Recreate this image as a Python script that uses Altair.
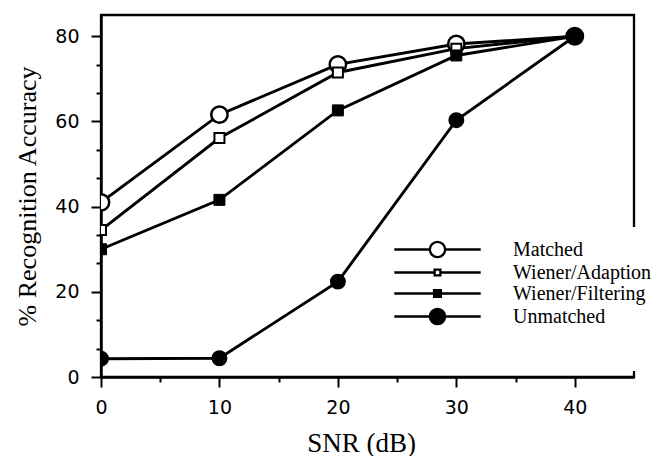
import altair as alt
import pandas as pd

# ---- data ----
snr = [0, 10, 20, 30, 40]
series_names = ["Matched", "Wiener/Adaption", "Wiener/Filtering", "Unmatched"]
matched = [41.0, 61.6, 73.4, 78.2, 80.0]
wiener_adaption = [34.5, 56.1, 71.5, 77.1, 80.0]
wiener_filtering = [30.0, 41.6, 62.6, 75.5, 80.0]
unmatched = [4.3, 4.4, 22.4, 60.3, 80.0]

x_tick_values = [0, 5, 10, 15, 20, 25, 30, 35, 40]
y_tick_values = [0, 20 / 3, 40 / 3, 20, 80 / 3, 100 / 3, 40, 140 / 3, 160 / 3, 60, 200 / 3, 220 / 3, 80]

# legend symbols: a line with the marker in the middle (unit coordinates)
legend_paths = [
    "M-4.8,0H-0.85M0.85,0H4.8M0.85,0C0.85,0.47 0.47,0.85 0,0.85C-0.47,0.85 -0.85,0.47 -0.85,0C-0.85,-0.47 -0.47,-0.85 0,-0.85C0.47,-0.85 0.85,-0.47 0.85,0Z",
    "M-4.8,0H-0.32M0.32,0H4.8M-0.32,-0.32H0.32V0.32H-0.32Z",
    "M-4.8,0H4.8M-0.38,-0.38H0.38V0.38H-0.38Z",
    "M-4.8,0H4.8M0.85,0C0.85,0.47 0.47,0.85 0,0.85C-0.47,0.85 -0.85,0.47 -0.85,0C-0.85,-0.47 -0.47,-0.85 0,-0.85C0.47,-0.85 0.85,-0.47 0.85,0Z",
]
legend_fills = ["white", "white", "black", "black"]
legend_strokes = ["black", "black", "black", "black"]

rows = []
for name, vals in zip(series_names, [matched, wiener_adaption, wiener_filtering, unmatched]):
    for s, v in zip(snr, vals):
        rows.append({"series": name, "snr": s, "acc": v})
df = pd.DataFrame(rows)

X = alt.X(
    "snr:Q",
    scale=alt.Scale(domain=[0, 45], nice=False, zero=False),
    axis=alt.Axis(
        values=x_tick_values,
        labelExpr="datum.value % 10 === 0 ? datum.label : ''",
        tickSize={"condition": {"test": "datum.value % 10 === 0", "value": 10}, "value": 5},
        tickWidth=2, tickColor="black", domainColor="black", domainWidth=2.5,
        labelFont="DejaVu Sans", labelFontSize=19, labelColor="black", labelPadding=11,
        labelFlush=False, labelOverlap=False, grid=False,
        title="SNR (dB)", titleFont="Liberation Serif", titleFontSize=27,
        titleFontWeight="normal", titleColor="black", titleX=260, titleY=74,
        titleBaseline="alphabetic", titleAlign="center",
    ),
)
Y = alt.Y(
    "acc:Q",
    scale=alt.Scale(domain=[0, 85], nice=False, zero=False),
    axis=alt.Axis(
        values=y_tick_values,
        labelExpr="datum.value % 20 === 0 ? datum.label : ''",
        tickSize={"condition": {"test": "datum.value % 20 === 0", "value": 10}, "value": 5},
        tickWidth=2, tickColor="black", domainColor="black", domainWidth=2.5,
        labelFont="DejaVu Sans", labelFontSize=19, labelColor="black", labelPadding=12,
        labelFlush=False, labelOverlap=False, grid=False,
        title="% Recognition Accuracy", titleFont="Liberation Serif", titleFontSize=26,
        titleFontWeight="normal", titleColor="black", titleX=-66, titleY=181,
        titleAngle=270, titleBaseline="alphabetic", titleAlign="center",
    ),
)

base = alt.Chart(df)

lines = base.mark_line(color="black", strokeWidth=2.9, clip=True).encode(
    x=X, y=Y, detail="series:N"
)

p_matched = base.transform_filter(alt.datum.series == "Matched").mark_point(
    shape="circle", filled=True, fill="white", stroke="black", strokeWidth=2.5,
    size=269, opacity=1, clip=True
).encode(x=X, y=Y)
p_adapt = base.transform_filter(alt.datum.series == "Wiener/Adaption").mark_point(
    shape="square", filled=True, fill="white", stroke="black", strokeWidth=2,
    size=100, opacity=1, clip=True
).encode(x=X, y=Y)
p_filt = base.transform_filter(alt.datum.series == "Wiener/Filtering").mark_point(
    shape="square", filled=True, fill="black", stroke="black", strokeWidth=1,
    size=121, opacity=1, clip=True
).encode(x=X, y=Y)
p_unm = base.transform_filter(alt.datum.series == "Unmatched").mark_point(
    shape="circle", filled=True, fill="black", size=254, opacity=1, clip=True
).encode(x=X, y=Y)

leg = alt.Legend(
    title=" ", titleOrient="bottom", titleFontSize=26, titlePadding=4,
    orient="none", legendX=314, legendY=212, padding=12,
    fillColor="white", symbolSize=324, symbolStrokeWidth=2.3,
    symbolOpacity=1,
    labelFont="Liberation Serif", labelFontSize=20, labelColor="black",
    labelOffset=65, rowPadding=0, labelLimit=300,
)
legend_layer = base.mark_point(
    filled=True, opacity=0, strokeWidth=2.3, size=324
).encode(
    x=X, y=Y,
    shape=alt.Shape("series:N", scale=alt.Scale(domain=series_names, range=legend_paths), legend=leg),
    fill=alt.Fill("series:N", scale=alt.Scale(domain=series_names, range=legend_fills), legend=leg),
    stroke=alt.Stroke("series:N", scale=alt.Scale(domain=series_names, range=legend_strokes), legend=leg),
)

chart = alt.layer(lines, p_matched, p_adapt, p_filt, p_unm, legend_layer).properties(
    width=533, height=362,
    autosize=alt.AutoSizeParams(type="none"),
    padding={"left": 93, "top": 7, "right": 21, "bottom": 79},
    background="white",
).configure_view(stroke="black", strokeWidth=2.3)

chart.save("out.html", embed_options={"renderer": "svg", "actions": False})
